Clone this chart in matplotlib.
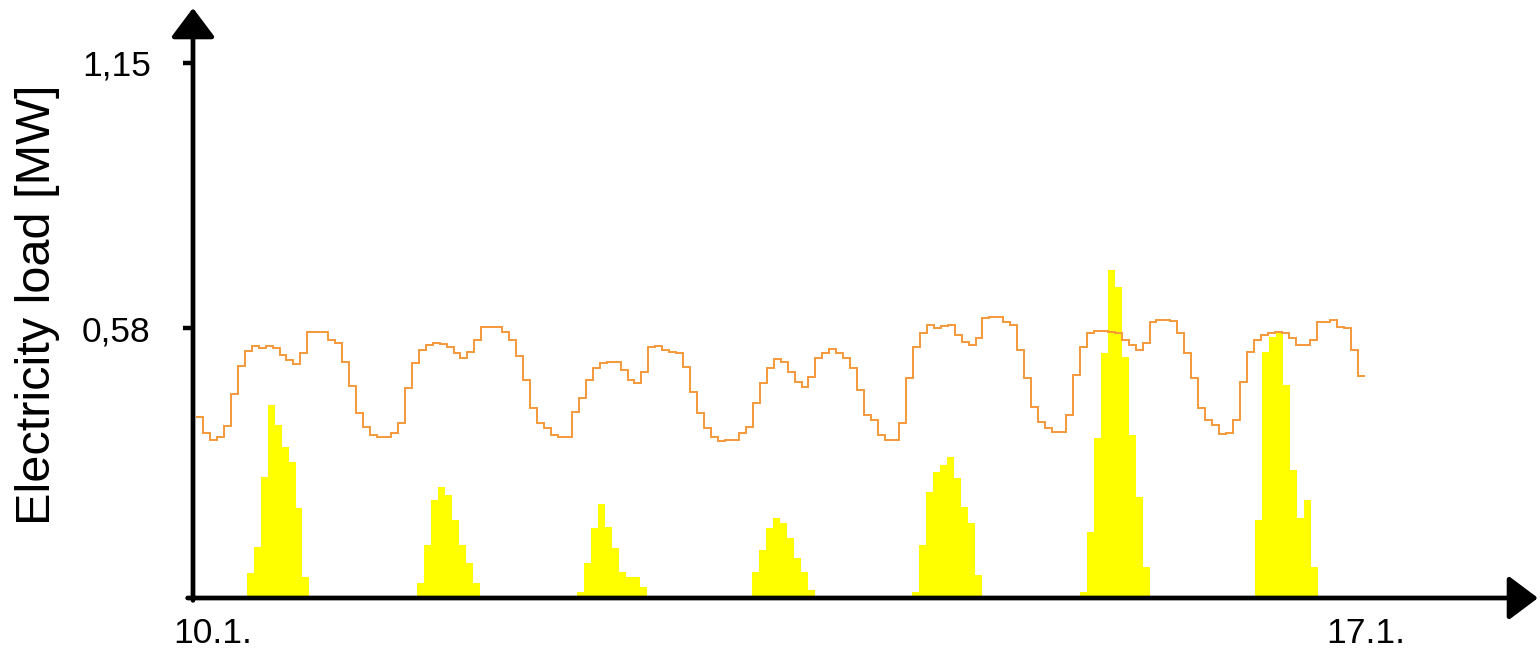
import numpy as np
import matplotlib
matplotlib.use("Agg")
import matplotlib.pyplot as plt
from matplotlib.patches import ArrowStyle
from matplotlib.transforms import ScaledTranslation

plt.rcParams['font.family'] = ['Liberation Sans', 'DejaVu Sans']

# ---- data: hourly electricity load [MW], one list per day (10.1. - 16.1.) ----
load_day1 = [0.389, 0.354, 0.339, 0.346, 0.369, 0.438, 0.498, 0.531, 0.541, 0.537, 0.541, 0.537,
             0.522, 0.511, 0.503, 0.526, 0.571, 0.571, 0.571, 0.554, 0.548, 0.507, 0.455, 0.397]
load_day2 = [0.367, 0.350, 0.346, 0.346, 0.354, 0.376, 0.451, 0.505, 0.533, 0.543, 0.548, 0.546,
             0.539, 0.526, 0.516, 0.528, 0.554, 0.582, 0.582, 0.582, 0.571, 0.554, 0.520, 0.468]
load_day3 = [0.408, 0.376, 0.365, 0.350, 0.346, 0.346, 0.400, 0.430, 0.468, 0.494, 0.505, 0.507,
             0.507, 0.490, 0.468, 0.462, 0.486, 0.539, 0.541, 0.533, 0.528, 0.526, 0.496, 0.443]
load_day4 = [0.397, 0.365, 0.346, 0.337, 0.339, 0.339, 0.354, 0.367, 0.419, 0.462, 0.494, 0.513,
             0.507, 0.486, 0.464, 0.453, 0.475, 0.516, 0.526, 0.535, 0.526, 0.516, 0.494, 0.447]
load_day5 = [0.393, 0.382, 0.350, 0.339, 0.339, 0.376, 0.473, 0.539, 0.569, 0.586, 0.580, 0.584,
             0.586, 0.565, 0.550, 0.543, 0.559, 0.601, 0.604, 0.604, 0.593, 0.586, 0.533, 0.473]
load_day6 = [0.410, 0.378, 0.365, 0.357, 0.357, 0.393, 0.479, 0.539, 0.569, 0.574, 0.574, 0.571,
             0.569, 0.554, 0.543, 0.533, 0.548, 0.593, 0.597, 0.597, 0.595, 0.569, 0.526, 0.473]
load_day7 = [0.408, 0.382, 0.372, 0.352, 0.354, 0.382, 0.464, 0.528, 0.554, 0.565, 0.569, 0.571,
             0.569, 0.559, 0.543, 0.543, 0.554, 0.593, 0.593, 0.597, 0.582, 0.580, 0.533, 0.477]

# ---- data: hourly PV generation [MW] per day, with hour of first value ----
pv_day1 = [0.054, 0.110, 0.260, 0.415, 0.372, 0.324, 0.292, 0.193, 0.045]
pv_day2 = [0.032, 0.114, 0.210, 0.238, 0.221, 0.168, 0.114, 0.075, 0.032]
pv_day3 = [0.013, 0.075, 0.150, 0.202, 0.153, 0.107, 0.056, 0.045, 0.045, 0.024]
pv_day4 = [0.056, 0.103, 0.150, 0.172, 0.161, 0.129, 0.086, 0.056, 0.017]
pv_day5 = [0.013, 0.114, 0.228, 0.271, 0.286, 0.303, 0.258, 0.196, 0.161, 0.049]
pv_day6 = [0.013, 0.142, 0.344, 0.526, 0.705, 0.668, 0.518, 0.350, 0.217, 0.067]
pv_day7 = [0.168, 0.528, 0.561, 0.571, 0.458, 0.275, 0.172, 0.211, 0.067]
pv_start_hour = [7.3, 7.8, 6.75, 7.9, 6.9, 7.0, 8.2]

y_ticks = [0.58, 1.15]
y_tick_labels = ["0,58", "1,15"]
x_ticks = [0, 168]
x_tick_labels = ["10.1.", "17.1."]
y_label = "Electricity load [MW]"

load_days = [load_day1, load_day2, load_day3, load_day4, load_day5, load_day6, load_day7]
pv_days = [pv_day1, pv_day2, pv_day3, pv_day4, pv_day5, pv_day6, pv_day7]

# ---- figure ----
W, H = 1540, 648
fig = plt.figure(figsize=(W / 100, H / 100), dpi=100)
ax = fig.add_axes([193 / W, (H - 598) / H, (1538 - 193) / W, (598 - 8) / H])

load = np.concatenate(load_days)
edges = np.arange(len(load) + 1)
px_per_hour = 6.96
ax.set_xlim(-3 / px_per_hour, (1538 - 196) / px_per_hour)
ax.set_ylim(0, (598 - 8) / 465.5)

for d, (vals, st) in enumerate(zip(pv_days, pv_start_hour)):
    e = d * 24 + st + np.arange(len(vals) + 1)
    ax.stairs(vals, e, fill=True, color='#FFFF00', zorder=2, lw=0)

ax.stairs(load, edges, baseline=None, color='#F5993A', lw=1.4, zorder=3)

for s in ax.spines.values():
    s.set_visible(False)

arrow = ArrowStyle('-|>', head_length=0.6, head_width=0.45)
ax.annotate('', xy=(1, 0), xytext=(-0.004, 0), xycoords='axes fraction',
            arrowprops=dict(arrowstyle=arrow, lw=3.4, color='black', mutation_scale=30,
                            shrinkA=0, shrinkB=0), zorder=5, annotation_clip=False)
ax.annotate('', xy=(0, 1), xytext=(0, -0.004), xycoords='axes fraction',
            arrowprops=dict(arrowstyle=arrow, lw=3.4, color='black', mutation_scale=30,
                            shrinkA=0, shrinkB=0), zorder=5, annotation_clip=False)

ax.set_yticks(y_ticks)
ax.set_yticklabels(y_tick_labels, fontsize=25.5)
ax.tick_params(axis='y', length=7.5, width=3.2, direction='out', pad=23, color='black')
ax.set_xticks(x_ticks)
ax.set_xticklabels(x_tick_labels, fontsize=25.5)
ax.tick_params(axis='x', length=0, pad=14)
labels = ax.get_xticklabels()
labels[0].set_transform(labels[0].get_transform() + ScaledTranslation(17 / 100, 0, fig.dpi_scale_trans))

fig.text(38 / W, 1 - 305 / H, y_label, rotation=90, ha='center', va='center', fontsize=35)

fig.savefig('out.png', dpi=100)
